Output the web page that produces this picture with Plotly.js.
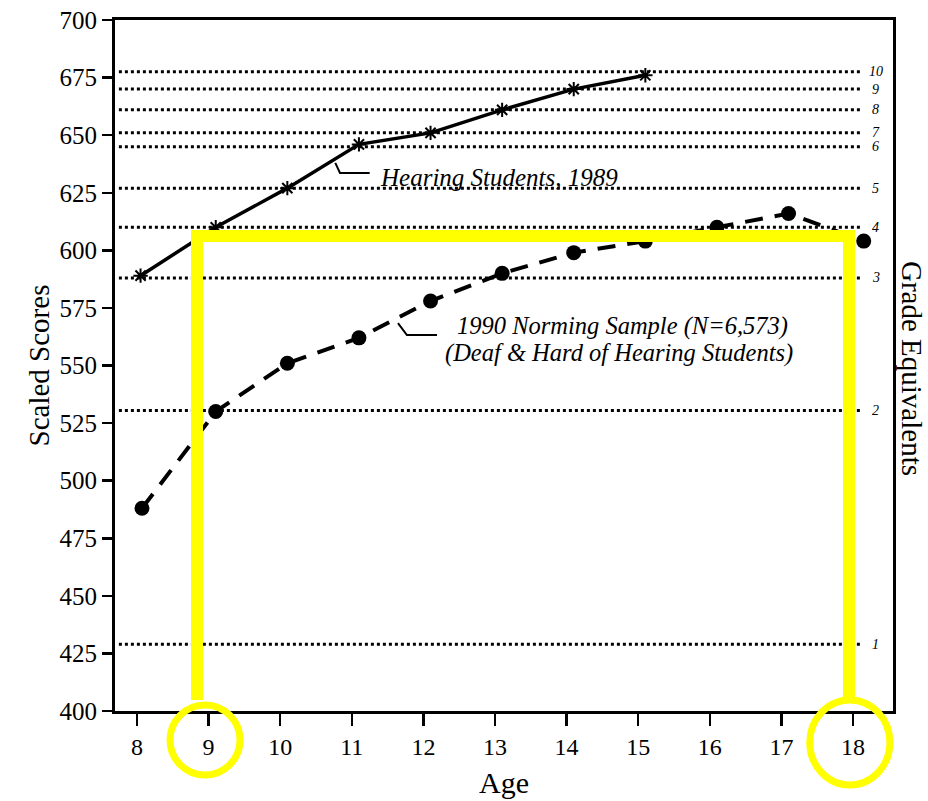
<!DOCTYPE html>
<html><head><meta charset="utf-8">
<script src="https://cdn.plot.ly/plotly-3.0.1.min.js"></script>
<style>body{margin:0;background:#fff}#chart{width:928px;height:801px}</style>
</head><body><div id="chart"></div>
<script>
// Data
const hearingAges = [8.05, 9.1, 10.1, 11.1, 12.1, 13.1, 14.1, 15.1];
const hearingScores = [589, 610, 627, 646, 651, 661, 670, 676];
const deafAges = [8.07, 9.1, 10.1, 11.1, 12.1, 13.1, 14.1, 15.1, 16.1, 17.1, 18.15];
const deafScores = [488, 530, 551, 562, 578, 590, 599, 604, 610, 616, 604];
const gradeLevels = [429, 530.5, 588, 610, 627, 645, 651, 661, 670, 677.5];
const gradeLabels = ['1','2','3','4','5','6','7','8','9','10'];
const ageTicks = [8,9,10,11,12,13,14,15,16,17,18];
const scoreTicks = [400,425,450,475,500,525,550,575,600,625,650,675,700];

const serif = 'Liberation Serif, Times New Roman, serif';
const shapes = [];
const annotations = [];
gradeLevels.forEach((g, i) => {
  shapes.push({type:'line', xref:'paper', yref:'y', x0:0.005, x1:0.958, y0:g, y1:g,
    line:{color:'#000', width:3, dash:'dot'}, layer:'below'});
  annotations.push({xref:'paper', yref:'y', x:0.978, y:g, text:gradeLabels[i], showarrow:false,
    xanchor:'center', yanchor:'middle', font:{family:serif, size:14, color:'#000', style:'italic'}});
});
// leader lines
shapes.push({type:'path', xref:'x', yref:'y', path:'M 10.77,638 L 10.835,633.6 L 11.25,633.6', line:{color:'#000', width:2}});
shapes.push({type:'path', xref:'x', yref:'y', path:'M 11.645,568.4 L 11.77,563.2 L 12.19,563.2', line:{color:'#000', width:2}});
annotations.push({xref:'x', yref:'y', x:11.37, y:631.8, text:'Hearing Students, 1989', showarrow:false, xanchor:'left', yanchor:'middle',
  font:{family:serif, size:25, color:'#000', style:'italic'}});
annotations.push({xref:'x', yref:'y', x:12.44, y:567, text:'1990 Norming Sample (N=6,573)', showarrow:false,
  xanchor:'left', yanchor:'middle', font:{family:serif, size:24.5, color:'#000', style:'italic'}});
annotations.push({xref:'x', yref:'y', x:12.27, y:555.5, text:'(Deaf &amp; Hard of Hearing Students)', showarrow:false,
  xanchor:'left', yanchor:'middle', font:{family:serif, size:24.5, color:'#000', style:'italic'}});
annotations.push({xref:'paper', yref:'paper', x:1.0244, y:0.495, text:'Grade Equivalents', textangle:90, showarrow:false,
  xanchor:'center', yanchor:'middle', font:{family:serif, size:29, color:'#000'}});
// yellow highlight marks
shapes.push({type:'path', xref:'paper', yref:'paper', path:'M 0.1054,0.0159 L 0.1054,0.6874 L 0.9434,0.6874 L 0.9434,0.0159',
  line:{color:'#ffff00', width:12}});
shapes.push({type:'circle', xref:'paper', yref:'paper', x0:0.0707, x1:0.1607, y0:0.0087, y1:-0.0926, line:{color:'#ffff00', width:7}});
shapes.push({type:'circle', xref:'paper', yref:'paper', x0:0.893, x1:0.996, y0:0.0159, y1:-0.107, line:{color:'#ffff00', width:7}});

const traces = [
  {x:hearingAges, y:hearingScores, mode:'lines+markers', type:'scatter',
   line:{color:'#000', width:3.5}, marker:{symbol:'asterisk-open', size:12, color:'#000', line:{width:2, color:'#000'}}, hoverinfo:'skip'},
  {x:deafAges, y:deafScores, mode:'lines+markers', type:'scatter',
   line:{color:'#000', width:4, dash:'18px,12px'}, marker:{symbol:'circle', size:15, color:'#000'}, hoverinfo:'skip'}
];
const layout = {
  width:928, height:801, showlegend:false,
  paper_bgcolor:'#fff', plot_bgcolor:'#fff',
  margin:{l:115, r:35, t:20, b:90},
  xaxis:{range:[7.693, 18.559], tickvals:ageTicks, ticktext:ageTicks.map(String), showgrid:false, zeroline:false,
    showline:true, linecolor:'#000', linewidth:3, mirror:true, ticks:'outside', ticklen:12, tickwidth:2.5, tickcolor:'#000',
    tickfont:{family:serif, size:24, color:'#000'},
    title:{text:'Age', font:{family:serif, size:30, color:'#000'}, standoff:14}},
  yaxis:{range:[400,700], tickvals:scoreTicks, showgrid:false, zeroline:false,
    showline:true, linecolor:'#000', linewidth:3, mirror:true, ticks:'outside', ticklen:10, tickwidth:2.5, tickcolor:'#000',
    ticksuffix:'\u00a0\u00a0',
    tickfont:{family:serif, size:25, color:'#000'},
    title:{text:'Scaled Scores', font:{family:serif, size:29, color:'#000'}, standoff:2}},
  shapes:shapes, annotations:annotations
};
Plotly.newPlot('chart', traces, layout, {staticPlot:true});
</script></body></html>
